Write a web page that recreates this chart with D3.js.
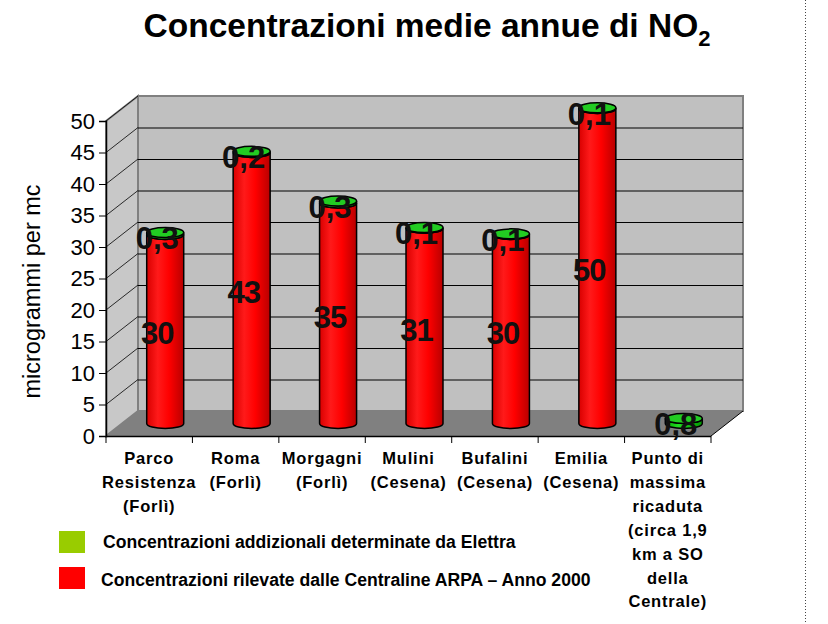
<!DOCTYPE html>
<html>
<head>
<meta charset="utf-8">
<script src="https://cdn.jsdelivr.net/npm/d3@7"></script>
<style>
  body { margin: 0; background: #fff; }
  svg { display: block; font-family: Arial, "Liberation Sans", sans-serif; }
</style>
</head>
<body>
<svg id="chart"></svg>
<script>
// data
const categories = ["Parco Resistenza", "Roma", "Morgagni", "Mulini", "Bufalini", "Emilia", "Punto di massima ricaduta"];
const categoryLines = [
  ["Parco", "Resistenza", "(Forlì)"],
  ["Roma", "(Forlì)"],
  ["Morgagni", "(Forlì)"],
  ["Mulini", "(Cesena)"],
  ["Bufalini", "(Cesena)"],
  ["Emilia", "(Cesena)"],
  ["Punto di", "massima", "ricaduta", "(circa 1,9", "km a SO", "della", "Centrale)"]
];
const arpaValues = [30, 43, 35, 31, 30, 50, 0];
const elettraValues = [0.3, 0.2, 0.3, 0.1, 0.1, 0.1, 0.8];
const yTicks = [0, 5, 10, 15, 20, 25, 30, 35, 40, 45, 50];
const legendItems = [
  { label: "Concentrazioni addizionali determinate da Elettra", color: "#99cc00" },
  { label: "Concentrazioni rilevate dalle Centraline ARPA – Anno 2000", color: "#ff0000" }
];

const width = 828, height = 624;
const depth = { dx: 32, dy: -25 };

const svg = d3.select("#chart")
  .attr("width", width)
  .attr("height", height);

const xScale = d3.scaleBand()
  .domain(categories)
  .range([106, 711]);

const yScale = d3.scaleLinear()
  .domain([0, 50])
  .range([436, 121]);

const defs = svg.append("defs");
const grad = (id, stops) => {
  const g = defs.append("linearGradient").attr("id", id)
    .attr("x1", "0%").attr("x2", "100%").attr("y1", "0%").attr("y2", "0%");
  stops.forEach(([o, c]) => g.append("stop").attr("offset", o).attr("stop-color", c));
};
grad("redBody", [["0%", "#d80000"], ["30%", "#ff1a1a"], ["60%", "#ff0000"], ["100%", "#b80000"]]);
grad("greenBody", [["0%", "#00aa00"], ["35%", "#22dd22"], ["100%", "#009900"]]);

// title
const title = svg.append("text")
  .attr("x", 427).attr("y", 37)
  .attr("text-anchor", "middle")
  .style("font-size", "33.5px").style("font-weight", "bold");
title.append("tspan").text("Concentrazioni medie annue di NO");
title.append("tspan").attr("dy", 9).style("font-size", "22px").text("2");

// dotted separator on the right
svg.append("line")
  .attr("x1", 805.5).attr("x2", 805.5).attr("y1", 0).attr("y2", height)
  .attr("stroke", "#444").attr("stroke-dasharray", "1,2");

const x0 = xScale.range()[0], x1 = xScale.range()[1];
const yTop = yScale(50), yBot = yScale(0);

// back wall
svg.append("rect")
  .attr("x", x0 + depth.dx).attr("y", yTop + depth.dy)
  .attr("width", x1 - x0).attr("height", yBot - yTop)
  .attr("fill", "#c0c0c0").attr("stroke", "#808080").attr("stroke-width", 2);

// side wall
svg.append("polygon")
  .attr("points", [[x0, yTop], [x0 + depth.dx, yTop + depth.dy], [x0 + depth.dx, yBot + depth.dy], [x0, yBot]].join(" "))
  .attr("fill", "#c8c8c8").attr("stroke", "#808080").attr("stroke-width", 2);

// gridlines (back wall + side wall)
const grid = svg.append("g").attr("stroke", "#000").attr("stroke-width", 1);
yTicks.filter(v => v > 0 && v < 50).forEach(v => {
  const y = yScale(v);
  grid.append("line")
    .attr("x1", x0 + depth.dx).attr("x2", x1 + depth.dx)
    .attr("y1", y + depth.dy + 0.5).attr("y2", y + depth.dy + 0.5);
});
yTicks.filter(v => v > 0).forEach(v => {
  const y = yScale(v);
  grid.append("line")
    .attr("x1", x0).attr("y1", y)
    .attr("x2", x0 + depth.dx).attr("y2", y + depth.dy)
    .attr("stroke-width", 0.8);
});

// floor
svg.append("polygon")
  .attr("points", [[x0, yBot], [x1, yBot], [x1 + depth.dx, yBot + depth.dy], [x0 + depth.dx, yBot + depth.dy]].join(" "))
  .attr("fill", "#808080");
svg.append("line")
  .attr("x1", x1).attr("y1", yBot).attr("x2", x1 + depth.dx).attr("y2", yBot + depth.dy)
  .attr("stroke", "#000").attr("stroke-width", 1);

// y axis
const yAxis = d3.axisLeft(yScale).tickValues(yTicks).tickSize(7).tickPadding(4);
const yAxisGroup = svg.append("g")
  .attr("transform", `translate(${x0},0)`)
  .call(yAxis);
yAxisGroup.select(".domain").attr("stroke", "#000").attr("stroke-width", 1.5);
yAxisGroup.selectAll("text")
  .style("font-size", "22px").style("font-family", "Arial, 'Liberation Sans', sans-serif")
  .attr("fill", "#000");

svg.append("text")
  .attr("transform", `translate(40,${(yTop + yBot) / 2 + 13}) rotate(-90)`)
  .attr("text-anchor", "middle")
  .style("font-size", "23.5px")
  .text("microgrammi per mc");

// x axis
const xAxisGroup = svg.append("g");
xAxisGroup.append("line")
  .attr("x1", x0).attr("x2", x1).attr("y1", yBot + 0.5).attr("y2", yBot + 0.5)
  .attr("stroke", "#000").attr("stroke-width", 1.5);
xAxisGroup.selectAll(".tick")
  .data(categories.map(c => xScale(c)).concat([x1]))
  .join("line")
  .attr("x1", d => d).attr("x2", d => d)
  .attr("y1", yBot).attr("y2", yBot + 7)
  .attr("stroke", "#000");

const catLabels = xAxisGroup.selectAll(".cat")
  .data(categories)
  .join("text")
  .attr("class", "cat")
  .attr("text-anchor", "middle")
  .style("font-size", "16.5px").style("font-weight", "bold").style("letter-spacing", "0.8px");
catLabels.each(function (c, i) {
  const t = d3.select(this);
  categoryLines[i].forEach((line, j) => {
    t.append("tspan")
      .attr("x", xScale(c) + xScale.bandwidth() / 2)
      .attr("y", 464 + j * 23.9)
      .text(line);
  });
});

// cylinders
const rx = 18.5, ry = 5;
const mid = { dx: depth.dx / 2, dy: depth.dy / 2 };
const cylBody = (cx, yb, yt) =>
  `M${cx - rx},${yt} L${cx - rx},${yb} A${rx},${ry} 0 0 0 ${cx + rx},${yb} L${cx + rx},${yt} A${rx},${ry} 0 0 1 ${cx - rx},${yt} Z`;

const bars = svg.append("g").attr("stroke", "#000").attr("stroke-width", 1.5);
categories.forEach((c, i) => {
  const cx = xScale(c) + xScale.bandwidth() / 2 + mid.dx;
  const base = yScale(0) + mid.dy;
  const redTop = yScale(arpaValues[i]) + mid.dy;
  const greenTop = yScale(arpaValues[i] + elettraValues[i]) + mid.dy;
  if (arpaValues[i] > 0) {
    bars.append("path").attr("d", cylBody(cx, base, redTop)).attr("fill", "url(#redBody)");
  }
  bars.append("path").attr("d", cylBody(cx, redTop, greenTop)).attr("fill", "url(#greenBody)");
  bars.append("ellipse")
    .attr("cx", cx).attr("cy", greenTop).attr("rx", rx).attr("ry", ry)
    .attr("fill", "#22cc22");
});

// value labels
const labels = svg.append("g")
  .attr("text-anchor", "middle")
  .style("font-size", "31px").style("font-weight", "bold")
  .attr("fill", "#111");
categories.forEach((c, i) => {
  const cx = xScale(c) + xScale.bandwidth() / 2 + mid.dx - 8;
  if (arpaValues[i] > 0) {
    labels.append("text")
      .attr("x", cx)
      .attr("y", yScale(arpaValues[i] / 2) + mid.dy + 4)
      .attr("dy", "0.35em")
      .style("letter-spacing", "-1px")
      .text(arpaValues[i]);
  }
  labels.append("text")
    .attr("x", cx)
    .attr("y", yScale(arpaValues[i] + elettraValues[i]) + mid.dy + 6)
    .attr("dy", "0.35em")
    .text(String(elettraValues[i]).replace(".", ","));
});

// legend
const legend = svg.append("g");
legendItems.forEach((d, i) => {
  legend.append("rect")
    .attr("x", 59).attr("y", 531 + i * 36)
    .attr("width", 26).attr("height", 22)
    .attr("fill", d.color);
  legend.append("text")
    .attr("x", 103 - i * 2).attr("y", 548 + i * 38)
    .style("font-size", "17.6px").style("font-weight", "bold")
    .text(d.label);
});
</script>
</body>
</html>
